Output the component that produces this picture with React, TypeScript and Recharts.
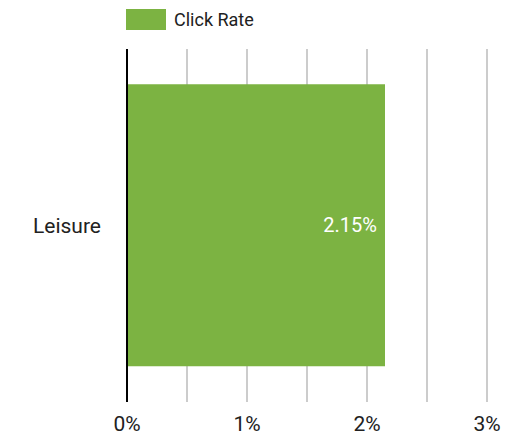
import { BarChart, Bar, XAxis, YAxis, CartesianGrid, Legend, LabelList } from 'recharts';

const categories = ['Leisure'];
const clickRate = [2.15];
const seriesName = 'Click Rate';
const xTicks = [0, 0.5, 1, 1.5, 2, 2.5, 3];

const data = categories.map((name, i) => ({ name, clickRate: clickRate[i] }));

const BAR_COLOR = '#7cb342';

const renderLegend = (props: any) => {
  const { payload } = props;
  return (
    <div style={{ height: 49, paddingLeft: 126, paddingTop: 9, boxSizing: 'border-box' }}>
      {(payload || []).map((entry: any) => (
        <div key={entry.value} style={{ display: 'flex', alignItems: 'center' }}>
          <span style={{ display: 'inline-block', width: 40, height: 21, background: entry.color }} />
          <span style={{ marginLeft: 8, fontSize: 18, color: '#212121' }}>{entry.value}</span>
        </div>
      ))}
    </div>
  );
};

const App = () => {
  return (
    <div style={{ position: 'absolute', left: 0, top: 0, fontFamily: 'Roboto' }}>
      <BarChart
        width={518}
        height={439}
        data={data}
        layout="vertical"
        margin={{ top: 0, right: 31, bottom: 0, left: 0 }}
        barCategoryGap="10%"
        style={{ fontFamily: 'Roboto' }}
      >
        <Legend verticalAlign="top" align="left" content={renderLegend} />
        <CartesianGrid horizontal={false} stroke="#cccccc" strokeWidth={2} />
        <XAxis
          type="number"
          domain={[0, 3]}
          ticks={xTicks}
          interval={0}
          height={37}
          axisLine={false}
          tickLine={false}
          tickMargin={8}
          tick={{ fontSize: 21, fill: '#212121' }}
          tickFormatter={(v: number) => (Number.isInteger(v) ? `${v}%` : '')}
        />
        <YAxis
          type="category"
          dataKey="name"
          width={127}
          axisLine={{ stroke: '#000000', strokeWidth: 2 }}
          tickLine={false}
          tickMargin={20}
          tick={{ fontSize: 21, fill: '#212121' }}
        />
        <Bar dataKey="clickRate" name={seriesName} fill={BAR_COLOR} isAnimationActive={false}>
          <LabelList
            dataKey="clickRate"
            position="insideRight"
            offset={8}
            fill="#ffffff"
            fontSize={20}
            formatter={(v: any) => `${v}%`}
          />
        </Bar>
      </BarChart>
    </div>
  );
};

export default App;
